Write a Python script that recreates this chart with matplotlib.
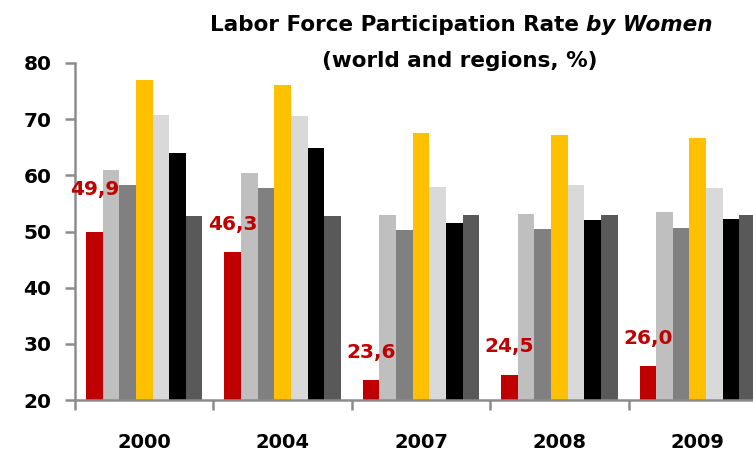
import numpy as np
import matplotlib
matplotlib.use("Agg")
import matplotlib.pyplot as plt

plt.rcParams['font.family'] = ['DejaVu Sans']

# data
years = ['2000', '2004', '2007', '2008', '2009']
world = [49.9, 46.3, 23.6, 24.5, 26.0]          # red, labelled
series_b = [60.9, 60.4, 53.0, 53.2, 53.4]       # light gray
series_c = [58.2, 57.7, 50.2, 50.4, 50.7]       # mid gray
series_d = [77.0, 76.0, 67.5, 67.1, 66.6]       # gold
series_e = [70.7, 70.5, 58.0, 58.2, 57.7]       # very light gray
series_f = [63.9, 64.9, 51.6, 52.0, 52.3]       # black
series_g = [52.7, 52.7, 53.0, 53.0, 53.0]       # dark gray
labels = ['49,9', '46,3', '23,6', '24,5', '26,0']

all_series = [world, series_b, series_c, series_d, series_e, series_f, series_g]
colors = ['#C00000', '#BFBFBF', '#808080', '#FFC000', '#D9D9D9', '#000000', '#595959']

fig = plt.figure(figsize=(7.53, 4.54), dpi=100)
# axes runs past the right edge, like the cropped original
ax = fig.add_axes([75/753, 54/454, 692/753, 337/454])

x = np.arange(len(years))
w = 0.12
for i, (vals, c) in enumerate(zip(all_series, colors)):
    ax.bar(x + (i - 3) * w, vals, width=w, color=c, linewidth=0)

# red value labels
for i, (v, t) in enumerate(zip(world, labels)):
    off = 31 if i == 0 else 20
    ax.annotate(t, (x[i] - 3 * w, v), xytext=(0, off), textcoords='offset points',
                ha='center', va='center', color='#C00000', fontsize=14.5,
                fontweight='bold')

ax.set_xlim(-0.5, 4.5)
ax.set_ylim(20, 80)
ax.set_yticks(range(20, 81, 10))
ax.set_xticks(x)
ax.set_xticklabels(years)
ax.set_xticks(np.arange(-0.5, 4.6, 1), minor=True)

for s in ['top', 'right']:
    ax.spines[s].set_visible(False)
for s in ['left', 'bottom']:
    ax.spines[s].set_color('#8C8C8C')
    ax.spines[s].set_linewidth(1.8)

ax.tick_params(axis='y', length=7, width=1.8, color='#8C8C8C', pad=10,
               labelsize=14.5)
ax.tick_params(axis='x', which='major', length=0, pad=24, labelsize=14)
ax.tick_params(axis='x', which='minor', length=7, width=1.8, color='#8C8C8C')
for lab in ax.get_xticklabels() + ax.get_yticklabels():
    lab.set_fontweight('bold')

# title, two lines, second part of line one italic
t1 = fig.text(210/753, 1 - 31/454, 'Labor Force Participation Rate ',
              fontsize=15.5, fontweight='bold', ha='left', va='baseline')
ax.annotate('by Women', xy=(1, 0), xycoords=t1, fontsize=15.5, fontweight='bold',
            fontstyle='italic', ha='left', va='bottom')
fig.text(460/753, 1 - 67/454, '(world and regions, %)', fontsize=15.5,
         fontweight='bold', ha='center', va='baseline')

fig.savefig('out.png', dpi=100)
